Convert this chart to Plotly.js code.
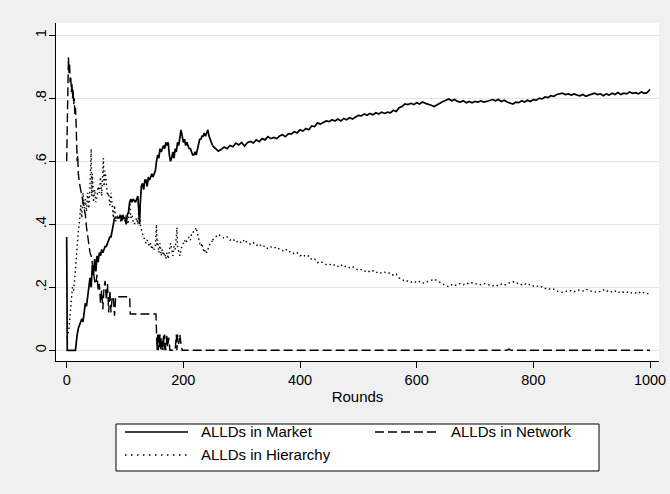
<!DOCTYPE html>
<html>
<head>
<meta charset="utf-8">
<script src="https://cdn.plot.ly/plotly-3.0.1.min.js"></script>
<style>html,body{margin:0;padding:0;background:#f0f0f0;}</style>
</head>
<body>
<div id="chart" style="width:670px;height:494px;"></div>
<script>
const FONT = '"Liberation Sans", Arial, Helvetica, sans-serif';

const seriesNames = ['ALLDs in Market', 'ALLDs in Network', 'ALLDs in Hierarchy'];
const xTickVals = [0, 200, 400, 600, 800, 1000];
const yTickVals = [0, 0.2, 0.4, 0.6, 0.8, 1];
const yTickText = ['0', '.2', '.4', '.6', '.8', '1'];
const xTitle = 'Rounds';

// ---- Market (solid) ----
const marketRoundsEarly = [
  0,1,15,16,18,20,22,24,26,28,
  30,32,34,36,38,40,42,44,46,48,
  50,52,54,56,58,60,62,64,66,68,
  70,72,74,76,78,80,82,86,90,92,
  94,96,98,100,102,104,106,108,110,112,
  114,118,120,122,124,125,126,128,130,132,
  134,136,138,140,142,144,146,148,150,152,
  154,156,158,160,162,164,166,168,170,172,
  174,176,178,180,182,184,186,188,190,192,
  194,196,198,200,202,204,206,208,210,212,
  214,216,218,220,222,224,226,228,230,232,
  234,236,238,240,242,244,246,248,250
];
const marketEarly = [
  0.36,0.00,0.00,0.02,0.05,0.07,0.08,0.09,0.10,0.09,
  0.12,0.15,0.14,0.18,0.20,0.23,0.20,0.27,0.24,0.29,
  0.25,0.30,0.28,0.31,0.30,0.32,0.31,0.32,0.33,0.33,
  0.34,0.35,0.36,0.36,0.38,0.41,0.42,0.42,0.42,0.43,
  0.41,0.43,0.42,0.42,0.40,0.43,0.44,0.47,0.48,0.47,
  0.48,0.47,0.48,0.49,0.43,0.40,0.46,0.52,0.53,0.51,
  0.54,0.54,0.52,0.55,0.54,0.55,0.56,0.55,0.56,0.57,
  0.60,0.62,0.61,0.64,0.63,0.64,0.65,0.64,0.66,0.65,
  0.66,0.62,0.60,0.61,0.63,0.61,0.64,0.63,0.66,0.65,
  0.67,0.70,0.68,0.66,0.67,0.65,0.66,0.65,0.64,0.64,
  0.63,0.62,0.62,0.63,0.62,0.64,0.66,0.67,0.67,0.68,
  0.68,0.69,0.68,0.69,0.70,0.68,0.67,0.66,0.65
];
// rounds 250, 255, ..., 1000
const lateStart = 250;
const lateStep = 5;
const marketLate = [
  0.650,0.640,0.632,0.638,0.645,0.640,0.650,0.646,0.658,0.652,
  0.660,0.648,0.660,0.663,0.658,0.668,0.662,0.672,0.668,0.678,
  0.672,0.676,0.672,0.680,0.684,0.678,0.688,0.686,0.694,0.690,
  0.700,0.696,0.704,0.700,0.712,0.710,0.722,0.718,0.724,0.728,
  0.726,0.732,0.728,0.734,0.728,0.736,0.732,0.738,0.734,0.740,
  0.746,0.744,0.750,0.746,0.752,0.748,0.754,0.750,0.756,0.752,
  0.756,0.754,0.762,0.758,0.770,0.774,0.782,0.780,0.784,0.780,
  0.786,0.782,0.788,0.784,0.782,0.778,0.774,0.780,0.786,0.790,
  0.794,0.798,0.792,0.796,0.790,0.788,0.792,0.786,0.790,0.786,
  0.790,0.788,0.792,0.788,0.790,0.792,0.796,0.792,0.796,0.790,
  0.794,0.788,0.784,0.782,0.788,0.786,0.792,0.788,0.794,0.790,
  0.796,0.794,0.800,0.798,0.804,0.802,0.808,0.806,0.812,0.814,
  0.816,0.812,0.814,0.810,0.814,0.810,0.808,0.812,0.806,0.810,
  0.812,0.816,0.812,0.814,0.808,0.814,0.810,0.816,0.812,0.818,
  0.812,0.816,0.814,0.820,0.816,0.818,0.814,0.820,0.816,0.818,
  0.828
];

// ---- Network (dashed) ----
const networkRounds = [
  0,2,3,4,5,6,7,8,9,10,
  11,12,13,14,15,16,17,18,19,20,
  22,24,26,28,30,32,34,36,38,40,
  42,44,46,48,50,52,54,56,58,60,
  62,64,66,68,70,72,74,76,78,80,
  82,84,108,109,153,154,155,156,157,158,
  159,160,161,162,164,166,167,168,170,172,
  173,175,177,186,188,189,190,192,194,196,
  198,755,758,762,1000
];
const network = [
  0.60,0.90,0.93,0.88,0.91,0.85,0.87,0.82,0.85,0.80,
  0.83,0.78,0.80,0.75,0.77,0.73,0.63,0.60,0.62,0.56,
  0.53,0.51,0.49,0.47,0.45,0.43,0.39,0.36,0.33,0.31,
  0.30,0.27,0.25,0.22,0.21,0.24,0.19,0.21,0.15,0.19,
  0.13,0.20,0.22,0.16,0.21,0.12,0.19,0.12,0.17,0.17,
  0.11,0.17,0.17,0.115,0.115,0.05,0.00,0.05,0.00,0.05,
  0.01,0.05,0.00,0.04,0.00,0.05,0.00,0.05,0.00,0.05,
  0.01,0.04,0.00,0.00,0.05,0.00,0.05,0.02,0.05,0.02,
  0.00,0.00,0.004,0.00,0.00
];

// ---- Hierarchy (dotted) ----
const hierarchyRoundsEarly = [
  0,2,4,6,8,10,12,14,16,18,
  20,22,24,26,28,30,32,34,36,38,
  40,42,43,44,46,48,50,52,54,56,
  58,60,62,63,64,66,68,70,72,74,
  76,78,80,82,84,86,88,90,92,94,
  96,98,100,102,104,106,108,110,112,114,
  116,118,120,122,124,126,128,130,132,134,
  136,138,140,142,144,146,148,150,152,154,
  155,156,158,160,162,164,166,168,170,172,
  174,176,178,180,182,184,186,188,189,190,
  192,194,196,198,200,202,204,206,208,210,
  212,214,216,218,220,222,224,226,228,230,
  232,234,236,238,240,242,244,246,248,250
];
const hierarchyEarly = [
  0.04,0.05,0.07,0.13,0.16,0.20,0.19,0.23,0.28,0.35,
  0.38,0.41,0.46,0.42,0.50,0.45,0.48,0.44,0.50,0.45,
  0.52,0.64,0.49,0.56,0.47,0.51,0.47,0.49,0.52,0.50,
  0.55,0.49,0.56,0.61,0.52,0.57,0.53,0.49,0.50,0.46,
  0.50,0.45,0.42,0.46,0.41,0.42,0.43,0.42,0.41,0.42,
  0.41,0.42,0.41,0.43,0.40,0.41,0.47,0.42,0.43,0.41,
  0.40,0.41,0.42,0.40,0.45,0.40,0.38,0.37,0.36,0.35,
  0.34,0.35,0.34,0.33,0.34,0.32,0.33,0.32,0.33,0.40,
  0.33,0.35,0.31,0.34,0.30,0.32,0.30,0.31,0.29,0.31,
  0.29,0.31,0.34,0.32,0.30,0.33,0.32,0.36,0.39,0.33,
  0.31,0.30,0.32,0.33,0.34,0.35,0.34,0.35,0.355,0.36,
  0.35,0.37,0.37,0.38,0.38,0.39,0.37,0.35,0.34,0.33,
  0.34,0.32,0.31,0.32,0.31,0.32,0.33,0.34,0.34,0.35
];
const hierarchyLate = [
  0.350,0.360,0.368,0.362,0.355,0.360,0.350,0.354,0.342,0.348,
  0.340,0.352,0.340,0.337,0.342,0.332,0.338,0.328,0.332,0.322,
  0.328,0.324,0.328,0.320,0.316,0.322,0.312,0.314,0.306,0.310,
  0.300,0.304,0.296,0.300,0.288,0.290,0.278,0.282,0.276,0.272,
  0.274,0.268,0.272,0.266,0.272,0.264,0.268,0.262,0.266,0.260,
  0.254,0.256,0.250,0.254,0.248,0.252,0.246,0.250,0.244,0.248,
  0.244,0.246,0.238,0.242,0.230,0.226,0.218,0.220,0.216,0.220,
  0.214,0.218,0.212,0.216,0.218,0.222,0.226,0.220,0.214,0.210,
  0.206,0.202,0.208,0.204,0.210,0.212,0.208,0.214,0.210,0.214,
  0.210,0.212,0.208,0.212,0.210,0.208,0.204,0.208,0.204,0.210,
  0.206,0.212,0.216,0.218,0.212,0.214,0.208,0.212,0.206,0.210,
  0.204,0.206,0.200,0.202,0.196,0.198,0.192,0.194,0.188,0.186,
  0.184,0.188,0.186,0.190,0.186,0.190,0.192,0.188,0.194,0.190,
  0.188,0.184,0.188,0.186,0.192,0.186,0.190,0.184,0.188,0.182,
  0.188,0.184,0.186,0.180,0.184,0.182,0.186,0.180,0.184,0.182,
  0.174
];

const LW = 1.4;
const LW_SOLID = 1.7;
const DASH_NET = '9px,4px';
const DASH_HIER = '1.5px,3px';

const traces = [
  {x: marketRoundsEarly, y: marketEarly, name: seriesNames[0], mode: 'lines',
   line: {color: 'black', width: LW_SOLID}, showlegend: false, hoverinfo: 'skip'},
  {x0: lateStart, dx: lateStep, y: marketLate, name: seriesNames[0], mode: 'lines',
   line: {color: 'black', width: LW_SOLID}, showlegend: false, hoverinfo: 'skip'},
  {x: networkRounds, y: network, name: seriesNames[1], mode: 'lines',
   line: {color: 'black', width: LW, dash: DASH_NET}, showlegend: false, hoverinfo: 'skip'},
  {x: hierarchyRoundsEarly, y: hierarchyEarly, name: seriesNames[2], mode: 'lines',
   line: {color: 'black', width: LW, dash: DASH_HIER}, showlegend: false, hoverinfo: 'skip'},
  {x0: lateStart, dx: lateStep, y: hierarchyLate, name: seriesNames[2], mode: 'lines',
   line: {color: 'black', width: LW, dash: DASH_HIER}, showlegend: false, hoverinfo: 'skip'}
];

// manual legend (Stata style box), paper coordinates
const lgRow1 = -0.210, lgRow2 = -0.278;
const legendShapes = [
  {type: 'rect', xref: 'paper', yref: 'paper', x0: 0.0995, x1: 0.9005, y0: -0.3254, y1: -0.1864,
   line: {color: 'black', width: 1}, fillcolor: 'white', layer: 'above'},
  {type: 'line', xref: 'paper', yref: 'paper', x0: 0.1144, x1: 0.2189, y0: lgRow1, y1: lgRow1,
   line: {color: 'black', width: LW}},
  {type: 'line', xref: 'paper', yref: 'paper', x0: 0.5290, x1: 0.6335, y0: lgRow1, y1: lgRow1,
   line: {color: 'black', width: LW, dash: DASH_NET}},
  {type: 'line', xref: 'paper', yref: 'paper', x0: 0.1144, x1: 0.2189, y0: lgRow2, y1: lgRow2,
   line: {color: 'black', width: LW, dash: '1.5px,4.5px'}}
];
const legendText = [
  {text: seriesNames[0], x: 0.2371, y: lgRow1},
  {text: seriesNames[1], x: 0.6517, y: lgRow1},
  {text: seriesNames[2], x: 0.2371, y: lgRow2}
].map(a => ({text: a.text, x: a.x, y: a.y, xref: 'paper', yref: 'paper',
  xanchor: 'left', yanchor: 'middle', showarrow: false,
  font: {family: FONT, size: 15, color: 'black'}}));

const layout = {
  width: 670, height: 494,
  margin: {l: 56, r: 11, t: 23, b: 133, pad: 0},
  paper_bgcolor: '#f0f0f0',
  plot_bgcolor: '#ffffff',
  showlegend: false,
  font: {family: FONT, size: 14.5, color: 'black'},
  xaxis: {
    range: [-18.3, 1015.4], tickvals: xTickVals, ticks: 'outside', ticklen: 6,
    tickwidth: 1, tickcolor: 'black', showline: true, linecolor: 'black', linewidth: 1,
    showgrid: false, zeroline: false, automargin: false,
    tickfont: {family: FONT, size: 14.5, color: 'black'},
    title: {text: xTitle, font: {family: FONT, size: 15, color: 'black'}, standoff: 4}
  },
  yaxis: {
    range: [-0.034, 1.039], tickvals: yTickVals, ticktext: yTickText, tickangle: -90,
    ticks: 'outside', ticklen: 6, tickwidth: 1, tickcolor: 'black',
    showline: true, linecolor: 'black', linewidth: 1, ticklabelstandoff: -3,
    showgrid: true, gridcolor: '#e4e4e4', gridwidth: 1, zeroline: false, automargin: false,
    tickfont: {family: FONT, size: 14.5, color: 'black'}
  },
  shapes: legendShapes,
  annotations: legendText
};

Plotly.newPlot('chart', traces, layout, {displayModeBar: false, staticPlot: true});
</script>
</body>
</html>
